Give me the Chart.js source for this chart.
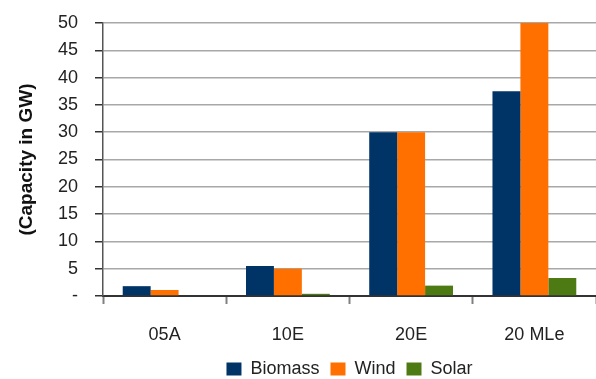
<!DOCTYPE html>
<html lang="en">
<head>
    <meta charset="UTF-8">
    <title>Capacity in GW</title>
    <script src="https://cdn.jsdelivr.net/npm/chart.js"></script>
    <style>
        html, body { margin: 0; padding: 0; background: #fff; }
        #wrap { width: 596px; height: 379px; }
    </style>
</head>
<body>
    <div id="wrap"><canvas id="capacityChart"></canvas></div>

    <script>
        const categories = ['05A', '10E', '20E', '20 MLe'];
        const biomass = [1.8, 5.5, 30, 37.5];
        const wind = [1.1, 5.0, 30, 50];
        const solar = [0, 0.4, 1.9, 3.3];
        const yTicks = [0, 5, 10, 15, 20, 25, 30, 35, 40, 45, 50];

        const FONT = "'Liberation Sans', Arial, sans-serif";

        // legend sits centred under the plot area, a bit lower than default;
        // let the category labels spill below the x scale box without clipping
        const legendPlace = {
            id: 'legendPlace',
            afterLayout(chart) {
                const lg = chart.legend;
                const area = chart.chartArea;
                if (lg) {
                    lg.left = area.left;
                    lg.right = area.right;
                    lg.top += 9;
                    lg.bottom += 9;
                }
                chart.scales.x.bottom = chart.height;
            },
        };

        const ctx = document.getElementById('capacityChart').getContext('2d');
        const capacityChart = new Chart(ctx, {
            type: 'bar',
            data: {
                labels: categories,
                datasets: [
                    { label: 'Biomass', data: biomass, backgroundColor: '#003366' },
                    { label: 'Wind', data: wind, backgroundColor: '#ff7000' },
                    { label: 'Solar', data: solar, backgroundColor: '#4e7a14' },
                ],
            },
            plugins: [legendPlace],
            options: {
                responsive: true,
                maintainAspectRatio: false,
                animation: false,
                layout: { padding: { left: 0, right: 0, top: 23, bottom: 0 } },
                datasets: {
                    bar: { categoryPercentage: 0.68, barPercentage: 1.0 },
                },
                plugins: {
                    tooltip: { enabled: false },
                    legend: {
                        position: 'bottom',
                        labels: {
                            boxWidth: 15,
                            boxHeight: 13,
                            padding: 11,
                            color: '#222',
                            font: { family: FONT, size: 18 },
                        },
                    },
                },
                scales: {
                    x: {
                        offset: true,
                        afterFit: (scale) => { scale.height = 44; },
                        grid: {
                            offset: true,
                            drawOnChartArea: false,
                            drawTicks: true,
                            tickLength: 8,
                            tickWidth: 2,
                            tickColor: '#808080',
                        },
                        border: { color: '#333', width: 2 },
                        ticks: {
                            color: '#222',
                            padding: 20,
                            font: { family: FONT, size: 18 },
                        },
                    },
                    y: {
                        min: 0,
                        max: 50,
                        afterFit: (scale) => {
                            scale.width = 103;
                            scale.paddingTop = 0;
                            scale.paddingBottom = 0;
                        },
                        afterBuildTicks: (scale) => {
                            scale.ticks = yTicks.map((v) => ({ value: v }));
                        },
                        grid: {
                            color: '#a8a8a8',
                            lineWidth: 1.5,
                            tickLength: 8,
                            tickColor: '#333',
                        },
                        border: { color: '#555', width: 1.5 },
                        ticks: {
                            color: '#222',
                            padding: 17,
                            font: { family: FONT, size: 18 },
                            callback: (v) => (v === 0 ? '-' : v),
                        },
                        title: {
                            display: true,
                            text: '(Capacity in GW)',
                            color: '#111',
                            padding: { top: 15, bottom: 0 },
                            font: { family: FONT, size: 19, weight: 'bold' },
                        },
                    },
                },
            },
        });
    </script>
</body>
</html>
